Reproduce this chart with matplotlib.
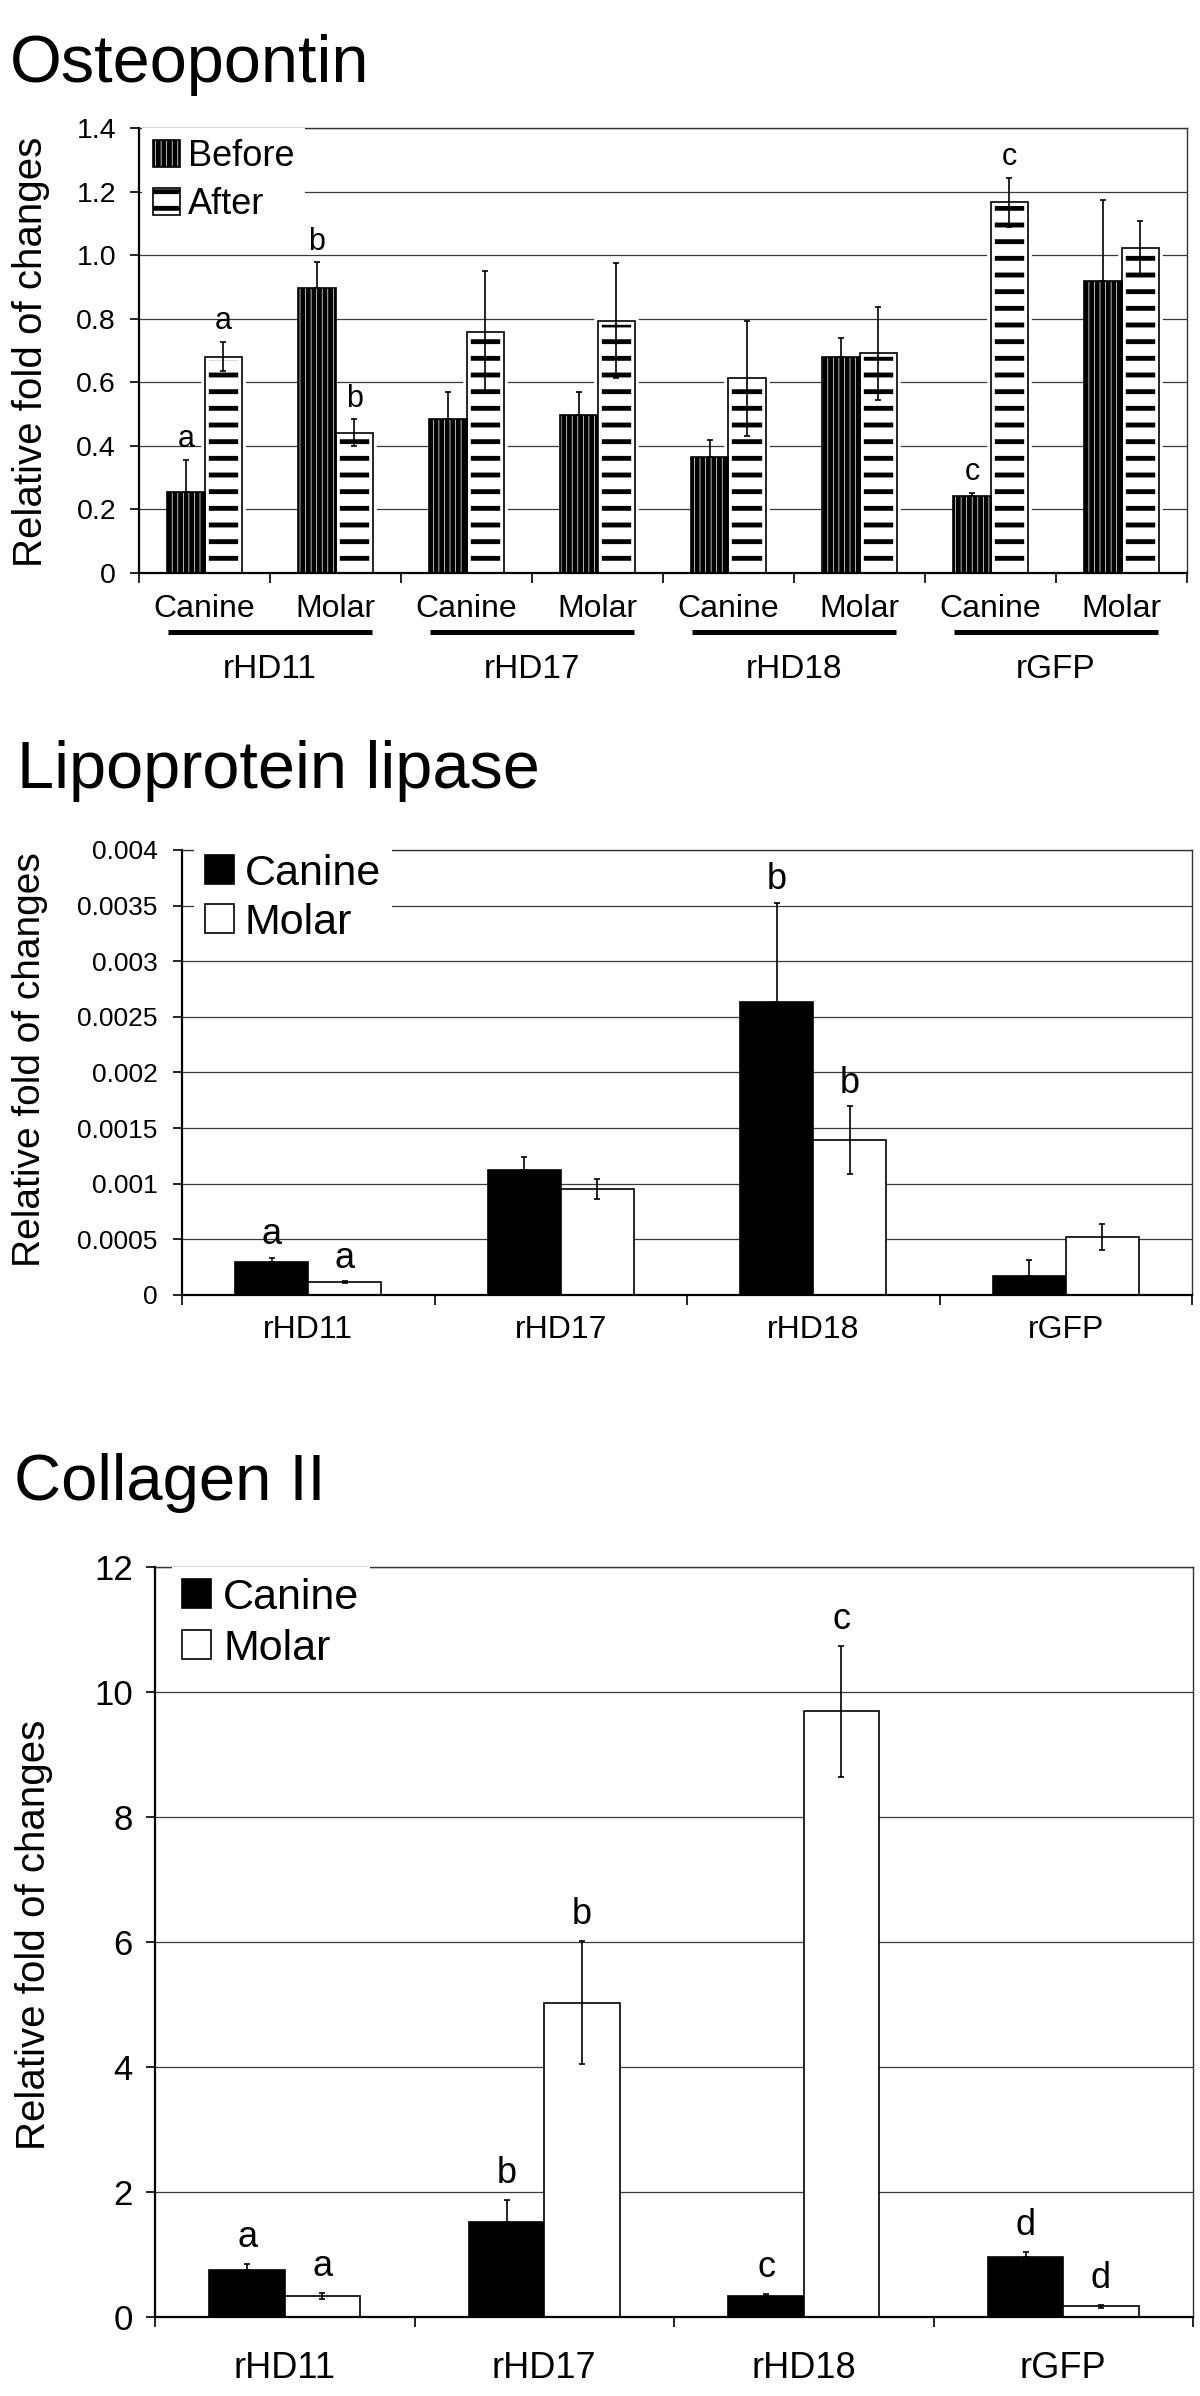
import numpy as np
import matplotlib
matplotlib.use("Agg")
import matplotlib.pyplot as plt
from matplotlib.patches import Patch

plt.rcParams["font.family"] = ["Liberation Sans", "DejaVu Sans"]
plt.rcParams["hatch.linewidth"] = 3.5

W, H, DPI = 1200, 2396, 100

# ---------------- data ----------------
groups = ["rHD11", "rHD17", "rHD18", "rGFP"]
teeth = ["Canine", "Molar"]

# Osteopontin: Before / After for each tooth of each group (8 categories)
opn_before = [0.255, 0.896, 0.483, 0.497, 0.364, 0.680, 0.242, 0.918]
opn_before_err = [0.100, 0.081, 0.086, 0.074, 0.054, 0.058, 0.009, 0.255]
opn_after = [0.681, 0.442, 0.757, 0.794, 0.612, 0.691, 1.166, 1.024]
opn_after_err = [0.047, 0.041, 0.192, 0.181, 0.182, 0.146, 0.078, 0.084]
opn_before_sig = ["a", "b", "", "", "", "", "c", ""]
opn_after_sig = ["a", "b", "", "", "", "", "c", ""]
opn_yticks = [0, 0.2, 0.4, 0.6, 0.8, 1.0, 1.2, 1.4]
opn_yticklabels = ["0", "0.2", "0.4", "0.6", "0.8", "1.0", "1.2", "1.4"]

# Lipoprotein lipase
lpl_canine = [0.000294, 0.001124, 0.002637, 0.000171]
lpl_canine_err = [0.000042, 0.000119, 0.000890, 0.000144]
lpl_molar = [0.000114, 0.000955, 0.001393, 0.000524]
lpl_molar_err = [0.000008, 0.000090, 0.000303, 0.000118]
lpl_canine_sig = ["a", "", "b", ""]
lpl_molar_sig = ["a", "", "b", ""]
lpl_yticks = [0, 0.0005, 0.001, 0.0015, 0.002, 0.0025, 0.003, 0.0035, 0.004]
lpl_yticklabels = ["0", "0.0005", "0.001", "0.0015", "0.002", "0.0025",
                   "0.003", "0.0035", "0.004"]

# Collagen II
col_canine = [0.752, 1.52, 0.336, 0.96]
col_canine_err = [0.10, 0.35, 0.037, 0.08]
col_molar = [0.336, 5.03, 9.69, 0.176]
col_molar_err = [0.05, 0.98, 1.045, 0.024]
col_canine_sig = ["a", "b", "c", "d"]
col_molar_sig = ["a", "b", "c", "d"]
col_yticks = [0, 2, 4, 6, 8, 10, 12]
col_yticklabels = ["0", "2", "4", "6", "8", "10", "12"]


def fx(px):
    return px / W


def fy(py):
    return 1 - py / H


def add_axes_px(fig, left, top, right, bottom):
    return fig.add_axes([fx(left), fy(bottom), (right - left) / W, (bottom - top) / H])


def style_axes(ax, ncat, yticks, yticklabels, tick_fs, ypad):
    ax.set_xlim(-0.5, ncat - 0.5)
    ax.set_ylim(yticks[0], yticks[-1])
    ax.set_yticks(yticks, yticklabels)
    ax.set_xticks(np.arange(ncat + 1) - 0.5, [""] * (ncat + 1))
    ax.yaxis.grid(True, color="#3a3a3a", lw=0.9)
    ax.set_axisbelow(True)
    ax.tick_params(axis="y", direction="out", length=6.5, width=1.2,
                   pad=ypad, labelsize=tick_fs)
    ax.tick_params(axis="x", direction="out", length=7.5, width=1.2)
    for side in ("left", "bottom"):
        ax.spines[side].set_linewidth(1.6)
        ax.spines[side].set_color("black")
    for side in ("top", "right"):
        ax.spines[side].set_linewidth(1.0)
        ax.spines[side].set_color("#333333")


def add_sig(ax, x, tops, errs, letters, off_pt, fs):
    for xi, t, e, s in zip(x, tops, errs, letters):
        if s:
            ax.annotate(s, (xi, t + e), xytext=(0, off_pt), textcoords="offset points",
                        ha="center", va="center", fontsize=fs)


def ylabel_px(fig, xc, yc, fs):
    fig.text(fx(xc), fy(yc), "Relative fold of changes", rotation=90,
             ha="center", va="center", fontsize=fs)


fig = plt.figure(figsize=(W / DPI, H / DPI), dpi=DPI)

# ---------------- Osteopontin ----------------
fig.text(fx(10), fy(82), "Osteopontin", fontsize=48, va="baseline", ha="left")
ax1 = add_axes_px(fig, 139, 128, 1187, 573)
style_axes(ax1, 8, opn_yticks, opn_yticklabels, 20.5, 10)
x1 = np.arange(8)
w1 = 0.283
xb, xa = x1 - w1 / 2, x1 + w1 / 2
ax1.bar(xa, opn_after, w1, color="white", edgecolor="black", hatch="-", lw=0, zorder=1.0)
ax1.bar(xa, opn_after, w1, fill=False, edgecolor="white", lw=5.5, zorder=1.1)
ax1.bar(xb, opn_before, w1, color="white", edgecolor="black", hatch="|||", lw=1.2, zorder=1.2)
ax1.bar(xa, opn_after, w1, fill=False, edgecolor="black", lw=1.2, zorder=1.3)
ax1.errorbar(xb, opn_before, yerr=[np.zeros(8), opn_before_err], fmt="none",
             ecolor="black", elinewidth=1.2, capsize=2.5, capthick=1.2, zorder=3)
ax1.errorbar(xa, opn_after, yerr=opn_after_err, fmt="none",
             ecolor="black", elinewidth=1.2, capsize=2.5, capthick=1.2, zorder=3)
add_sig(ax1, xb, opn_before, opn_before_err, opn_before_sig, 15, 22)
add_sig(ax1, xa, opn_after, opn_after_err, opn_after_sig, 15, 22)

tr1 = ax1.get_xaxis_transform()
for i in x1:
    ax1.text(i, -0.0989, teeth[i % 2], transform=tr1, ha="center", va="baseline", fontsize=23)
for g, name in enumerate(groups):
    ax1.plot([2 * g - 0.5 + 0.22, 2 * g + 1.5 - 0.22], [-0.1337, -0.1337], transform=tr1,
             clip_on=False, color="black", lw=3.6, solid_capstyle="butt")
    ax1.text(2 * g + 0.5, -0.236, name, transform=tr1, ha="center", va="baseline", fontsize=24)

ax1.legend(
    [Patch(facecolor="white", edgecolor="black", hatch="|||", lw=1.2),
     Patch(facecolor="white", edgecolor="black", hatch="-", lw=1.2)],
    ["Before", "After"], loc="upper left", bbox_to_anchor=(0.003, 1.0),
    borderaxespad=0, borderpad=0.3, fontsize=26, handlelength=0.75, handleheight=0.78,
    handletextpad=0.22, labelspacing=0.36, frameon=True, fancybox=False,
    facecolor="white", edgecolor="none", framealpha=1)
ylabel_px(fig, 31, 352, 29)

# ---------------- Lipoprotein lipase ----------------
fig.text(fx(17), fy(788), "Lipoprotein lipase", fontsize=48, va="baseline", ha="left")
ax2 = add_axes_px(fig, 182, 850, 1192, 1295)
style_axes(ax2, 4, lpl_yticks, lpl_yticklabels, 19, 11)
x2 = np.arange(4)
w2 = 0.29
xc, xm = x2 - w2 / 2, x2 + w2 / 2
ax2.bar(xc, lpl_canine, w2, color="black", edgecolor="black", lw=1.2, zorder=1.2)
ax2.bar(xm, lpl_molar, w2, color="white", edgecolor="black", lw=1.2, zorder=1.2)
ax2.errorbar(xc, lpl_canine, yerr=[np.zeros(4), lpl_canine_err], fmt="none",
             ecolor="black", elinewidth=1.2, capsize=2.5, capthick=1.2, zorder=3)
ax2.errorbar(xm, lpl_molar, yerr=lpl_molar_err, fmt="none",
             ecolor="black", elinewidth=1.2, capsize=2.5, capthick=1.2, zorder=3)
add_sig(ax2, xc, lpl_canine, lpl_canine_err, lpl_canine_sig, 16.5, 26)
add_sig(ax2, xm, lpl_molar, lpl_molar_err, lpl_molar_sig, 16.5, 26)
tr2 = ax2.get_xaxis_transform()
for g, name in enumerate(groups):
    ax2.text(g, -0.0966, name, transform=tr2, ha="center", va="baseline", fontsize=23)
ax2.legend(
    [Patch(facecolor="black", edgecolor="black", lw=1.2),
     Patch(facecolor="white", edgecolor="black", lw=1.2)],
    teeth, loc="upper left", bbox_to_anchor=(0.012, 1.016),
    borderaxespad=0, borderpad=0.25, fontsize=31, handlelength=0.67, handleheight=0.65,
    handletextpad=0.26, labelspacing=0.21, frameon=True, fancybox=False,
    facecolor="white", edgecolor="none", framealpha=1)
ylabel_px(fig, 30, 1060, 28)

# ---------------- Collagen II ----------------
fig.text(fx(14), fy(1500), "Collagen II", fontsize=47, va="baseline", ha="left")
ax3 = add_axes_px(fig, 155, 1567, 1193, 2317)
style_axes(ax3, 4, col_yticks, col_yticklabels, 25, 9.5)
ax3.bar(xc, col_canine, w2, color="black", edgecolor="black", lw=1.2, zorder=1.2)
ax3.bar(xm, col_molar, w2, color="white", edgecolor="black", lw=1.2, zorder=1.2)
ax3.errorbar(xc, col_canine, yerr=[np.zeros(4), col_canine_err], fmt="none",
             ecolor="black", elinewidth=1.2, capsize=2.5, capthick=1.2, zorder=3)
ax3.errorbar(xm, col_molar, yerr=col_molar_err, fmt="none",
             ecolor="black", elinewidth=1.2, capsize=2.5, capthick=1.2, zorder=3)
add_sig(ax3, xc, col_canine, col_canine_err, col_canine_sig, 19, 26)
add_sig(ax3, xm, col_molar, col_molar_err, col_molar_sig, 19, 26)
tr3 = ax3.get_xaxis_transform()
for g, name in enumerate(groups):
    ax3.text(g, -0.0813, name, transform=tr3, ha="center", va="baseline", fontsize=26)
ax3.legend(
    [Patch(facecolor="black", edgecolor="black", lw=1.2),
     Patch(facecolor="white", edgecolor="black", lw=1.2)],
    teeth, loc="upper left", bbox_to_anchor=(0.016, 1.0),
    borderaxespad=0, borderpad=0.25, fontsize=31, handlelength=0.67, handleheight=0.65,
    handletextpad=0.28, labelspacing=0.26, frameon=True, fancybox=False,
    facecolor="white", edgecolor="none", framealpha=1)
ylabel_px(fig, 34, 1935, 29)

fig.savefig("out.png", dpi=DPI)
